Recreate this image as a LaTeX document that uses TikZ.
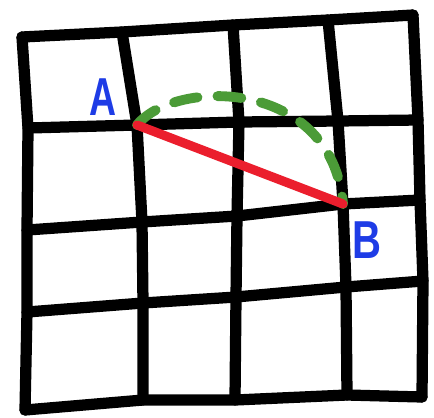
\documentclass[tikz,border=0pt]{standalone}
\usepackage{fontspec}
\newfontfamily\labfont{Liberation Sans}
\definecolor{penblue}{RGB}{30,60,230}
\definecolor{penred}{RGB}{235,30,45}
\definecolor{pengreen}{RGB}{75,155,55}

\begin{document}
\begin{tikzpicture}[x=0.025cm, y=-0.025cm,
  pen/.style={line width=8pt, line cap=round, line join=round},
  lab/.style={text=penblue, inner sep=0pt,
    font=\labfont\bfseries\fontsize{38}{38}\selectfont}]
  \useasboundingbox (0,0) rectangle (434,417);

  % hand-drawn grid points, row by row
  \foreach \i/\x/\y in {0/22/37,1/122/32,2/233/25,3/328/20,4/413/15}
    \coordinate (p\i0) at (\x,\y);
  \foreach \i/\x/\y in {0/28/128,1/137/125,2/239/122,3/338/121,4/418/120}
    \coordinate (p\i1) at (\x,\y);
  \foreach \i/\x/\y in {0/27/230,1/142/222,2/237/216,3/343/204,4/420/200}
    \coordinate (p\i2) at (\x,\y);
  \foreach \i/\x/\y in {0/27/312,1/143/303,2/236/297,3/346/287,4/423/281}
    \coordinate (p\i3) at (\x,\y);
  \foreach \i/\x/\y in {0/25/410,1/143/400,2/235/400,3/347/395,4/422/397}
    \coordinate (p\i4) at (\x,\y);

  \foreach \j in {0,...,4} {
    \draw[pen] (p0\j) -- (p1\j) -- (p2\j) -- (p3\j) -- (p4\j);
    \draw[pen] (p\j0) -- (p\j1) -- (p\j2) -- (p\j3) -- (p\j4);
  }

  \coordinate (A) at (p11);
  \coordinate (B) at (p32);

  \draw[pengreen, line width=7pt, line cap=round,
    dash pattern=on 0.6cm off 0.5cm]
    (A) .. controls (175,78) and (332,78) .. (B);
  \draw[penred, line width=6.5pt, line cap=round] (A) -- (B);

  \node[lab] (labA) at (103,97) {\scalebox{0.7}[1]{A}};
  \node[lab] (labB) at (367,240) {\scalebox{0.75}[1]{B}};
\end{tikzpicture}
\end{document}
